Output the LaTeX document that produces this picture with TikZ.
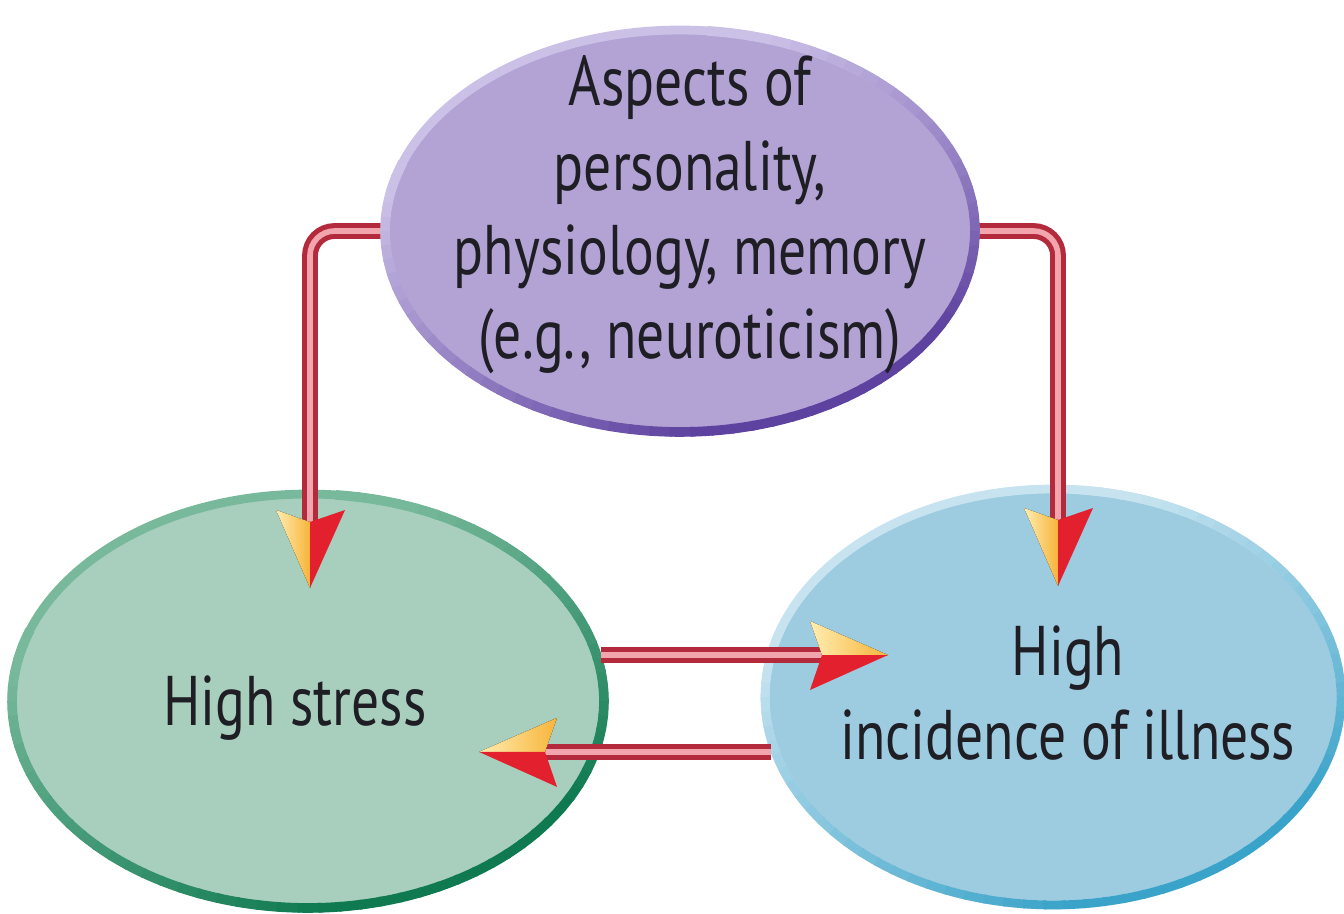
\documentclass[tikz,border=0pt]{standalone}
\usepackage{fontspec}
\setmainfont{PT Sans}[FakeStretch=0.79]
\usetikzlibrary{shapes.geometric,calc}
\pgfdeclarelayer{fg}
\pgfsetlayers{main,fg}
\definecolor{pfill}{HTML}{B3A3D5}
\definecolor{plight}{HTML}{CBC0E6}
\definecolor{pdark}{HTML}{5E42A0}
\definecolor{gfill}{HTML}{A8CFBD}
\definecolor{glight}{HTML}{78B99C}
\definecolor{gdark}{HTML}{0F7A50}
\definecolor{bfill}{HTML}{9DCBE0}
\definecolor{blight}{HTML}{C6E3EF}
\definecolor{bdark}{HTML}{3AA3C9}
\definecolor{tubedark}{HTML}{B32A3D}
\definecolor{tubepink}{HTML}{F2A5AD}
\definecolor{arrred}{HTML}{E2202E}
\definecolor{ylight}{HTML}{FFEDB0}
\definecolor{yorange}{HTML}{F7B43A}
\definecolor{txtcol}{HTML}{1E1E24}
% shaded rim: #1 node, #2 x radius, #3 y radius, #4 light colour, #5 dark colour, #6 width
\newcommand{\rimshade}[6]{%
  \foreach \a in {-200,-196,...,80} {%
    \pgfmathtruncatemacro{\p}{max(0,min(100,130-abs(\a+60)))}%
    \draw[line width=#6, color=#5!\p!#4] (#1.center) ++(\a:#2 and #3)
      arc[start angle=\a, end angle=\a+4.6, x radius=#2, y radius=#3];
  }}
\begin{document}
\begin{tikzpicture}[x=0.02cm,y=0.02cm,
  oval/.style={ellipse, inner sep=0pt, line width=5pt},
  txt/.style={align=center, text=txtcol, inner sep=0pt, font=\fontsize{40}{48}\selectfont},
  tube/.style={draw=tubedark, line width=9pt, rounded corners=14pt,
    postaction={draw=tubepink, line width=3.2pt}},
  head/.pic={
    \fill[left color=ylight, right color=yorange] (0,0) -- (-12,34) -- (66,0) -- cycle;
    \fill[arrred] (0,0) -- (66,0) -- (-12,-35) -- cycle;
  }]
\useasboundingbox (0,0) rectangle (1344,913);
% purple on top layer
\begin{pgfonlayer}{fg}
\node[oval, fill=pfill, draw=plight, minimum width=11.8cm, minimum height=8.04cm] (purple) at (680,682) {};
\rimshade{purple}{5.9cm}{4.02cm}{plight}{pdark}{5.5pt}
\node[txt] (ptext) at (690,698) {Aspects of\\personality,\\physiology, memory\\(e.g., neuroticism)};
\end{pgfonlayer}
% green
\node[oval, fill=gfill, draw=glight, minimum width=11.84cm, minimum height=8.28cm] (green) at (308,212) {};
\rimshade{green}{5.92cm}{4.14cm}{glight}{gdark}{5.5pt}
\node[txt] (gtext) at (295,205) {High stress};
% blue
\node[oval, fill=bfill, draw=blight, minimum width=11.52cm, minimum height=8.32cm] (blue) at (1053,216) {};
\rimshade{blue}{5.76cm}{4.16cm}{blight}{bdark}{5pt}
\node[txt] (btext) at (1068,220) {High\\incidence of illness};
% arrow ends
\coordinate (nL) at (310,391);
\coordinate (nR) at (1058,393);
\coordinate (nT) at (822,258);
\coordinate (nB) at (545,161);
% connectors
\draw[tube] (purple.center) -| (nL);
\draw[tube] (purple.center) -| (nR);
\draw[tube] ($(green.east |- nT)+(-7,0)$) -- (nT);
\draw[tube] (blue.191) -- (blue.191 -| nB);
% heads
\pic[rotate=-90, yscale=-1] at (nL) {head};
\pic[rotate=-90, yscale=-1] at (nR) {head};
\pic at (nT) {head};
\pic[xscale=-1] at (blue.191 -| nB) {head};
\end{tikzpicture}
\end{document}
